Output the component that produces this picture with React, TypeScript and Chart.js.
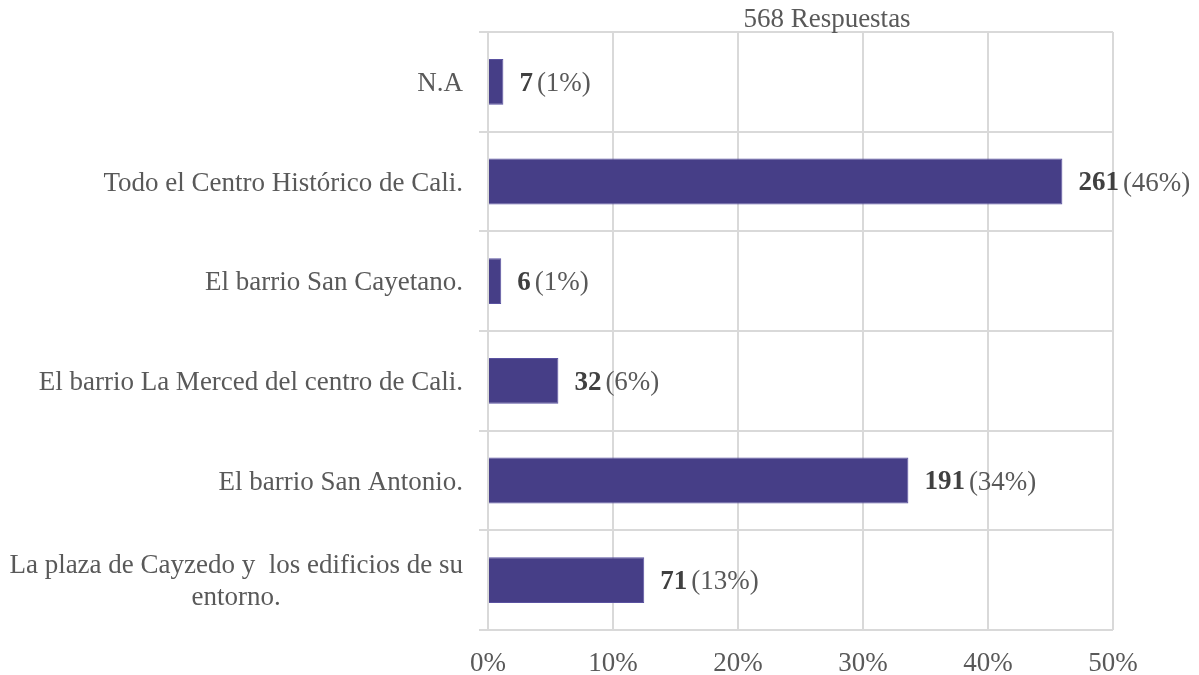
import React, { useEffect, useRef } from "react";
import { Chart, registerables } from "chart.js";

Chart.register(...registerables);

const TITLE = "568 Respuestas";
const categories: (string | string[])[] = [
  "N.A",
  "Todo el Centro Histórico de Cali.",
  "El barrio San Cayetano.",
  "El barrio La Merced del centro de Cali.",
  "El barrio San Antonio.",
  ["La plaza de Cayzedo y  los edificios de su", "entorno."],
];
const counts = [7, 261, 6, 32, 191, 71];
const percents = [1.23, 45.95, 1.06, 5.63, 33.63, 12.5];
const percentLabels = ["1%", "46%", "1%", "6%", "34%", "13%"];
const X_MIN = 0;
const X_MAX = 50;
const X_STEP = 10;

const FONT = '"Liberation Serif", "Times New Roman", serif';
const FONT_SIZE = 27;

export default function App() {
  const ref = useRef<HTMLCanvasElement>(null);

  useEffect(() => {
    document.body.style.margin = "0";
    const canvas = ref.current;
    if (!canvas) return;

    const labelsPlugin = {
      id: "customLabels",
      afterDraw(chart: any) {
        const ctx = chart.ctx as CanvasRenderingContext2D;
        const yScale = chart.scales.y;
        ctx.save();
        ctx.textBaseline = "middle";

        // category labels
        ctx.font = `${FONT_SIZE}px ${FONT}`;
        ctx.fillStyle = "#595959";
        categories.forEach((cat, i) => {
          const lines = Array.isArray(cat) ? cat : [cat];
          const cy = yScale.getPixelForValue(i) + 2;
          const right = chart.chartArea.left - 25;
          const w = Math.max(...lines.map((l) => ctx.measureText(l).width));
          const lh = 32;
          lines.forEach((l, j) => {
            const ly = cy + (j - (lines.length - 1) / 2) * lh;
            ctx.textAlign = "center";
            ctx.fillText(l, right - w / 2, ly);
          });
        });

        // value labels
        const meta = chart.getDatasetMeta(0);
        meta.data.forEach((bar: any, i: number) => {
          const bx = bar.x + 16;
          const by = bar.y + 2;
          ctx.textAlign = "left";
          ctx.font = `bold ${FONT_SIZE}px ${FONT}`;
          ctx.fillStyle = "#404040";
          const s1 = String(counts[i]);
          ctx.fillText(s1, bx, by);
          const w1 = ctx.measureText(s1).width;
          ctx.font = `${FONT_SIZE}px ${FONT}`;
          ctx.fillStyle = "#595959";
          ctx.fillText(`(${percentLabels[i]})`, bx + w1 + 4, by);
        });

        // title
        ctx.font = `${FONT_SIZE}px ${FONT}`;
        ctx.textAlign = "center";
        ctx.fillStyle = "#595959";
        ctx.fillText(TITLE, 827, 20);
        ctx.restore();
      },
    };

    const chart = new Chart(canvas, {
      type: "bar",
      data: {
        labels: categories as any,
        datasets: [
          {
            data: percents,
            backgroundColor: "#463e87",
            borderColor: "#5a52a0",
            borderWidth: 1,
            barPercentage: 0.46,
            categoryPercentage: 1,
          },
        ],
      },
      options: {
        indexAxis: "y",
        animation: false,
        responsive: false,
        maintainAspectRatio: false,
        layout: { padding: { top: 32, right: 86, left: 0, bottom: 0 } },
        plugins: {
          legend: { display: false },
          tooltip: { enabled: false },
          title: { display: false },
        },
        scales: {
          x: {
            min: X_MIN,
            max: X_MAX,
            ticks: {
              stepSize: X_STEP,
              callback: (v: any) => `${v}%`,
              font: { family: FONT, size: FONT_SIZE },
              color: "#595959",
              padding: 18,
            },
            grid: { color: "#d9d9d9", lineWidth: 2, drawTicks: false },
            border: { display: false },
            afterFit: (s: any) => {
              s.height = 45;
            },
          },
          y: {
            ticks: { display: false },
            grid: {
              color: "#d9d9d9",
              lineWidth: 2,
              offset: true,
              drawTicks: true,
              tickLength: 9,
            },
            border: { color: "#d9d9d9", width: 2 },
            afterFit: (s: any) => {
              s.width = 488;
            },
          },
        },
      } as any,
      plugins: [labelsPlugin],
    });

    return () => chart.destroy();
  }, []);

  return (
    <canvas
      ref={ref}
      width={1199}
      height={675}
      style={{ display: "block", width: 1199, height: 675 }}
    />
  );
}
